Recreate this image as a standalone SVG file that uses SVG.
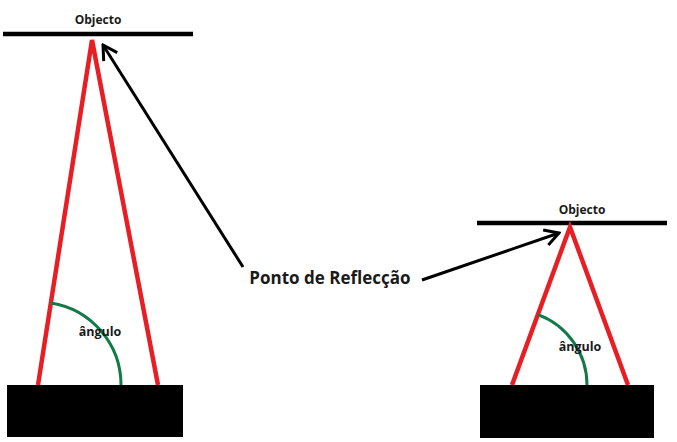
<svg xmlns="http://www.w3.org/2000/svg" width="677" height="442" viewBox="0 0 677 442">
<defs>
<style>
.obj{stroke:#000;stroke-width:4.5;fill:none}
.ray{stroke:#e81e25;stroke-width:4.5;fill:none}
.arc{stroke:#127a47;stroke-width:3;fill:none}
.ptr{stroke:#000;stroke-width:3;fill:none}
.box{fill:#000}
.t{font-family:"Open Sans","DejaVu Sans",sans-serif;font-weight:bold;fill:#1a1a1a;text-anchor:middle}
</style>
<marker id="open" viewBox="0 0 20 20" refX="18" refY="10" markerWidth="20" markerHeight="20" markerUnits="userSpaceOnUse" orient="auto">
<path d="M4,2 L18,10 L4,18" stroke="#000" stroke-width="3" fill="none"/>
</marker>
</defs>
<g id="left-scene">
<g id="left-object">
<line class="obj" x1="3" y1="34" x2="193" y2="34"/>
<text class="t" x="98" y="24" font-size="12">Objecto</text>
</g>
<g id="left-rays">
<polyline class="ray" points="38,385 92,40 158,385"/>
</g>
<g id="left-angle">
<path class="arc" d="M50.9,303 A83,83 0 0 1 121,385"/>
<text class="t" x="100" y="336" font-size="12.5">ângulo</text>
</g>
<g id="left-sensor">
<rect class="box" x="7" y="385" width="176" height="52"/>
</g>
</g>
<g id="right-scene">
<g id="right-object">
<line class="obj" x1="477" y1="223" x2="667" y2="223"/>
<text class="t" x="582" y="214" font-size="12">Objecto</text>
</g>
<g id="right-rays">
<polyline class="ray" points="512,385 570,227 628,385"/>
</g>
<g id="right-angle">
<path class="arc" d="M537.9,314.6 A75,75 0 0 1 587,385"/>
<text class="t" x="580" y="351" font-size="12.5">ângulo</text>
</g>
<g id="right-sensor">
<rect class="box" x="480" y="385" width="174" height="53"/>
</g>
</g>
<g id="label">
<text class="t" x="330" y="284" font-size="17">Ponto de Reflecção</text>
</g>
<g id="connectors">
<line class="ptr" x1="243" y1="267" x2="103" y2="45" marker-end="url(#open)"/>
<line class="ptr" x1="422" y1="280" x2="559" y2="233" marker-end="url(#open)"/>
</g>
</svg>
